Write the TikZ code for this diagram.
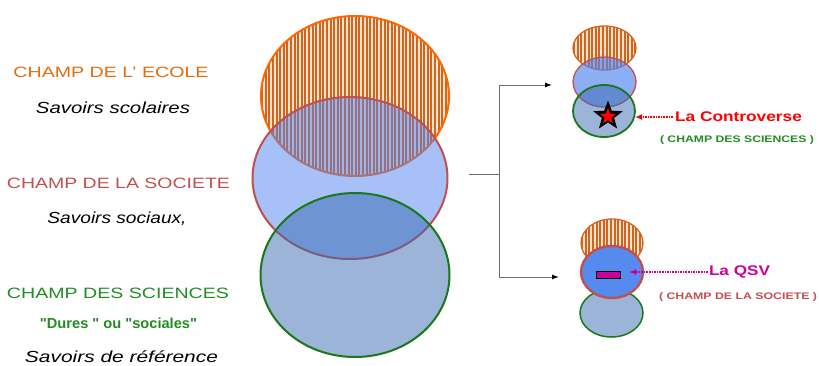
\documentclass[tikz,border=0pt]{standalone}
\usepackage{fontspec}
\setmainfont{Liberation Sans}
\newfontfamily\qfont{Liberation Sans}
\usepackage{graphicx}
\usetikzlibrary{shapes.geometric,arrows.meta}
\definecolor{ecoleC}{RGB}{228,108,10}
\definecolor{orStroke}{RGB}{255,102,0}
\definecolor{hatchL}{RGB}{210,100,30}
\definecolor{hatchB}{RGB}{252,230,208}
\definecolor{socC}{RGB}{192,80,77}
\definecolor{blueF}{RGB}{80,130,240}
\definecolor{blueS}{RGB}{85,138,238}
\definecolor{sciC}{RGB}{34,139,34}
\definecolor{greenS}{RGB}{25,120,25}
\definecolor{greenF}{RGB}{55,105,177}
\definecolor{greenO}{RGB}{155,180,215}
\definecolor{magC}{RGB}{204,0,153}
\definecolor{connC}{RGB}{110,110,110}
\newcommand{\tw}[2]{\resizebox{#1pt}{\height}{#2}}
\tikzset{
  ell/.style={ellipse, inner sep=0pt, outer sep=0pt},
  hatch/.style={path picture={
    \fill[hatchB] (path picture bounding box.south west) rectangle (path picture bounding box.north east);
    \foreach \k in {0,...,60}{
      \draw[hatchL, line width=1.9pt] ([xshift=\k*3.6pt+1.2pt]path picture bounding box.south west) -- ([xshift=\k*3.6pt+1.2pt]path picture bounding box.north west);
    }}},
  lbl/.style={inner sep=0pt, anchor=center},
}
\begin{document}
\begin{tikzpicture}[x=1pt,y=-1pt]
\useasboundingbox (0,0) rectangle (819,365);
% ---- big diagram
\node[ell, hatch, draw=orStroke, line width=2pt, minimum width=188pt, minimum height=160pt] (ecole) at (355,96) {};
\node[ell, fill=blueF, fill opacity=0.5, draw=socC, line width=2pt, minimum width=195pt, minimum height=162pt] (soc) at (350,178) {};
\node[ell, fill=greenF, fill opacity=0.5, draw=greenS, line width=2pt, minimum width=189pt, minimum height=164pt] (sci) at (355,275) {};
% ---- left labels
\node[lbl, text=ecoleC] (l1) at (111,72) {\tw{195}{\fontsize{15}{18}\selectfont CHAMP DE L’ ECOLE}};
\node[lbl] (l2) at (113,108) {\tw{154}{\fontsize{16}{19}\selectfont\itshape Savoirs scolaires}};
\node[lbl, text=socC] (l3) at (118.5,183) {\tw{223}{\fontsize{15}{18}\selectfont CHAMP DE LA SOCIETE}};
\node[lbl] (l4) at (117,219) {\tw{139}{\fontsize{16}{19}\selectfont\itshape Savoirs sociaux,}};
\node[lbl, text=sciC] (l5) at (118,293) {\tw{222}{\fontsize{15}{18}\selectfont CHAMP DES SCIENCES}};
\node[lbl, text=sciC] (l6) at (118.5,323) {\tw{157}{\qfont\fontsize{14.5}{17}\selectfont\bfseries "Dures " ou "sociales"}};
\node[lbl] (l7) at (121.5,357) {\tw{193}{\fontsize{16}{19}\selectfont\itshape Savoirs de référence}};
% ---- connectors
\coordinate (src) at (469,174);
\coordinate (jn) at (499,174);
\coordinate (a1) at (552,85);
\coordinate (a2) at (559,277);
\draw[connC, line width=1pt] (src) -- (jn);
\draw[connC, line width=1pt, -{Latex[length=7pt,width=5pt,black]}] (jn) |- (a1);
\draw[connC, line width=1pt, -{Latex[length=7pt,width=5pt,black]}] (jn) |- (a2);
% ---- top small group
\node[ell, hatch, draw=hatchL, line width=1.3pt, minimum width=63pt, minimum height=44pt] (e1) at (604.5,48) {};
\node[ell, fill=blueF, fill opacity=0.65, draw=socC, line width=1.3pt, minimum width=63pt, minimum height=50pt] (s1) at (604.5,82) {};
\node[ell, fill=greenF, fill opacity=0.5, draw=greenS, line width=1.8pt, minimum width=62pt, minimum height=52pt] (g1) at (604,111) {};
\node[star, star points=5, star point ratio=2.4, fill=black, inner sep=0pt, minimum size=31pt] (st) at (608,116) {};
\node[star, star points=5, star point ratio=2.4, fill=red, inner sep=0pt, minimum size=17pt] (st2) at (608,116.5) {};
\node[lbl, text=red] (c1) at (738.5,117) {\tw{127}{\fontsize{14}{17}\selectfont\bfseries La Controverse}};
\node[lbl, text=sciC] (c2) at (737,140) {\tw{154}{\fontsize{9.5}{12}\selectfont\bfseries ( CHAMP DES SCIENCES )}};
\draw[red, line width=1.6pt, densely dotted, -{Latex[length=7pt,width=6pt]}] (c1.west) ++(-2pt,0) coordinate (c1a) -- (g1.east |- c1a) ;
% ---- bottom small group
\node[ell, hatch, draw=hatchL, line width=1.3pt, minimum width=62pt, minimum height=48pt] (e2) at (612,243) {};
\node[ell, fill=greenO, draw=greenS, line width=1.5pt, minimum width=63pt, minimum height=48pt] (g2) at (611.5,313) {};
\node[ell, fill=blueS, draw=socC, line width=2.3pt, minimum width=62pt, minimum height=52pt] (s2) at (612,272) {};
\node[draw=black, line width=1.5pt, fill=magC, inner sep=0pt, minimum width=24pt, minimum height=7pt] (qr) at (608.5,275) {};
\node[lbl, text=magC] (q1) at (739.5,272) {\tw{61}{\fontsize{14}{17}\selectfont\bfseries La QSV}};
\node[lbl, text=socC] (q2) at (738,297) {\tw{158}{\fontsize{9.5}{12}\selectfont\bfseries ( CHAMP DE LA SOCIETE )}};
\draw[magC, line width=1.6pt, densely dotted, -{Latex[length=7pt,width=6pt]}] (q1.west) ++(-1pt,0) coordinate (q1a) -- ([xshift=-14pt]s2.east |- q1a);
\end{tikzpicture}
\end{document}
